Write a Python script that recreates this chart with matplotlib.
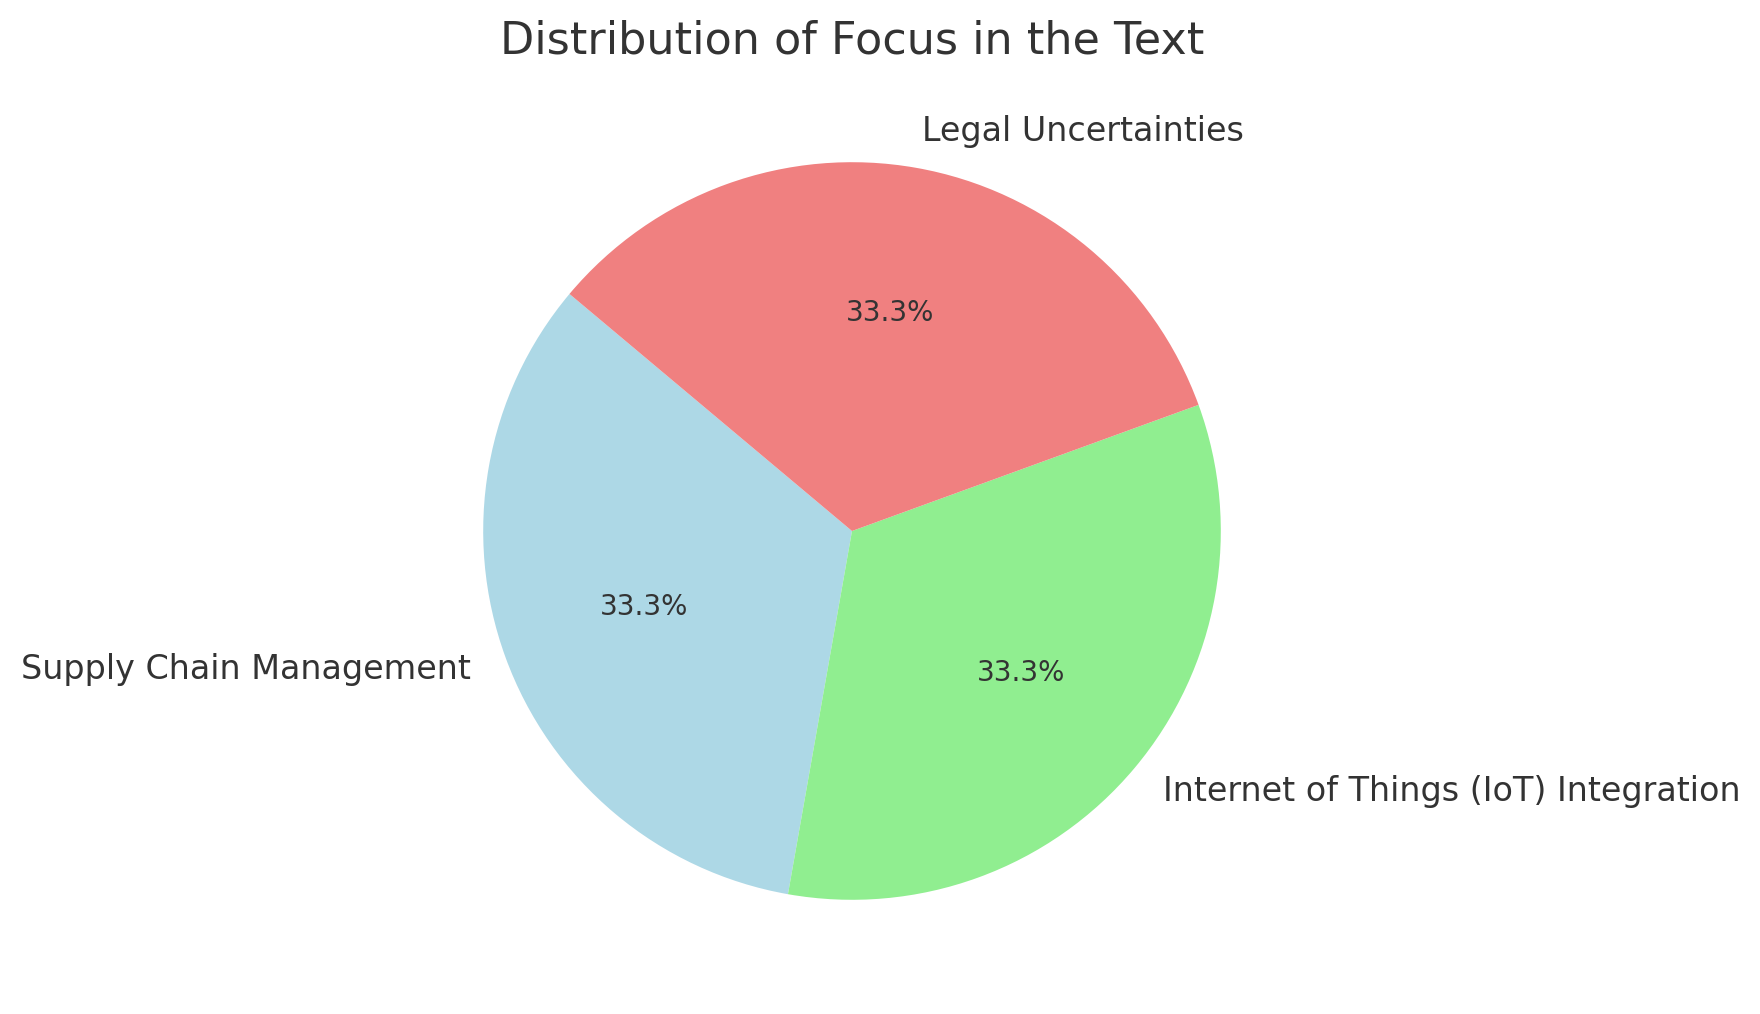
import matplotlib
matplotlib.use("Agg")
import matplotlib.pyplot as plt

categories = ["Supply Chain Management", "Internet of Things (IoT) Integration", "Legal Uncertainties"]
values = [1, 1, 1]
colors = ["lightblue", "lightgreen", "lightcoral"]

plt.rcParams['font.family'] = ['DejaVu Sans']
plt.rcParams['text.color'] = '#333333'

fig = plt.figure(figsize=(8.8, 5.07), dpi=200)
ax = fig.add_axes([391/1760, 22/1014, 922/1760, 922/1014])
wedges, texts, autotexts = ax.pie(values, labels=categories, colors=colors,
                                  autopct='%1.1f%%', startangle=140,
                                  textprops={'fontsize': 12, 'color': '#333333'})
for t in autotexts:
    t.set_fontsize(10)
ax.set_title("Distribution of Focus in the Text", fontsize=16, color='#333333')
ax.set_aspect('equal')
fig.savefig("out.png", dpi=200)
